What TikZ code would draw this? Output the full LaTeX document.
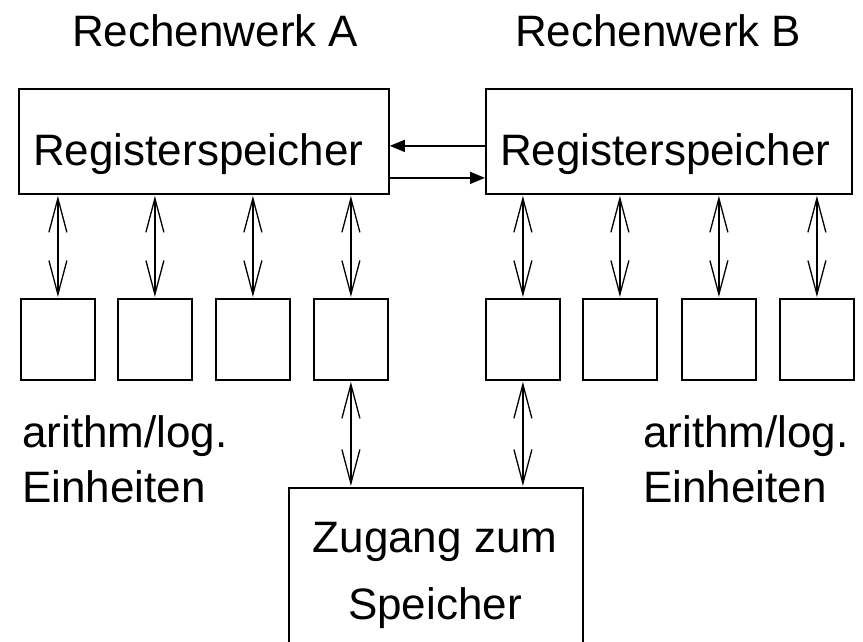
\documentclass[tikz,border=0pt]{standalone}
\usepackage{fontspec}
\setmainfont{Liberation Sans}
\usetikzlibrary{arrows.meta}
\begin{document}
\begin{tikzpicture}[x=1pt,y=-1pt,
  box/.style={draw, line width=1.8pt, inner sep=0pt, anchor=north west},
  lbl/.style={inner sep=0pt, anchor=base west, font=\fontsize{44}{55}\selectfont},
  dbl/.style={line width=1.3pt, {Straight Barb[length=34pt,width=18pt,line width=1.3pt]}-{Straight Barb[length=34pt,width=18pt,line width=1.3pt]}, shorten <=1pt, shorten >=1pt},
  tri/.style={line width=1.5pt, -{Triangle[length=15pt,width=12pt]}}]
\useasboundingbox (0,0) rectangle (863,642);
\clip (0,0) rectangle (863,642);
% titles
\node[lbl] (tA) at (72,47) {Rechenwerk A};
\node[lbl] (tB) at (515,47) {Rechenwerk B};
% register boxes
\node[box, minimum width=370pt, minimum height=105pt] (regA) at (18,88) {};
\node[box, minimum width=366pt, minimum height=105pt] (regB) at (485,88) {};
\node[lbl] (rA) at (33,165) {Registerspeicher};
\node[lbl] (rB) at (500,165) {Registerspeicher};
% small units
\foreach \n/\x in {a1/20,a2/117,a3/215,a4/313,b1/485,b2/582,b3/681,b4/779}{
  \node[box, minimum width=74pt, minimum height=81pt] (\n) at (\x,298) {};
}
% access box
\node[box, minimum width=294pt, minimum height=180pt] (zug) at (288,487) {};
\node[inner sep=0pt, anchor=base, font=\fontsize{44}{55}\selectfont] (z1) at (435,552) {Zugang zum};
\node[inner sep=0pt, anchor=base, font=\fontsize{44}{55}\selectfont] (z2) at (435,619) {Speicher};
% unit labels
\node[lbl] (la1) at (22,447) {arithm/log.};
\node[lbl] (la2) at (22,502) {Einheiten};
\node[lbl] (lb1) at (643,447) {arithm/log.};
\node[lbl] (lb2) at (643,502) {Einheiten};
% vertical double arrows
\foreach \n in {a1,a2,a3,a4,b1,b2,b3,b4}{
  \draw[dbl] (\n.north |- regA.south) -- (\n.north);
}
\draw[dbl] (a4.south) -- (a4.south |- zug.north);
\draw[dbl] (b1.south) -- (b1.south |- zug.north);
% horizontal arrows
\draw[tri] ([yshift=-4.5pt]regB.west) -- ([yshift=-4.5pt]regA.east);
\draw[tri] ([yshift=-36.5pt]regA.east) -- ([yshift=-36.5pt]regB.west);
\end{tikzpicture}
\end{document}
